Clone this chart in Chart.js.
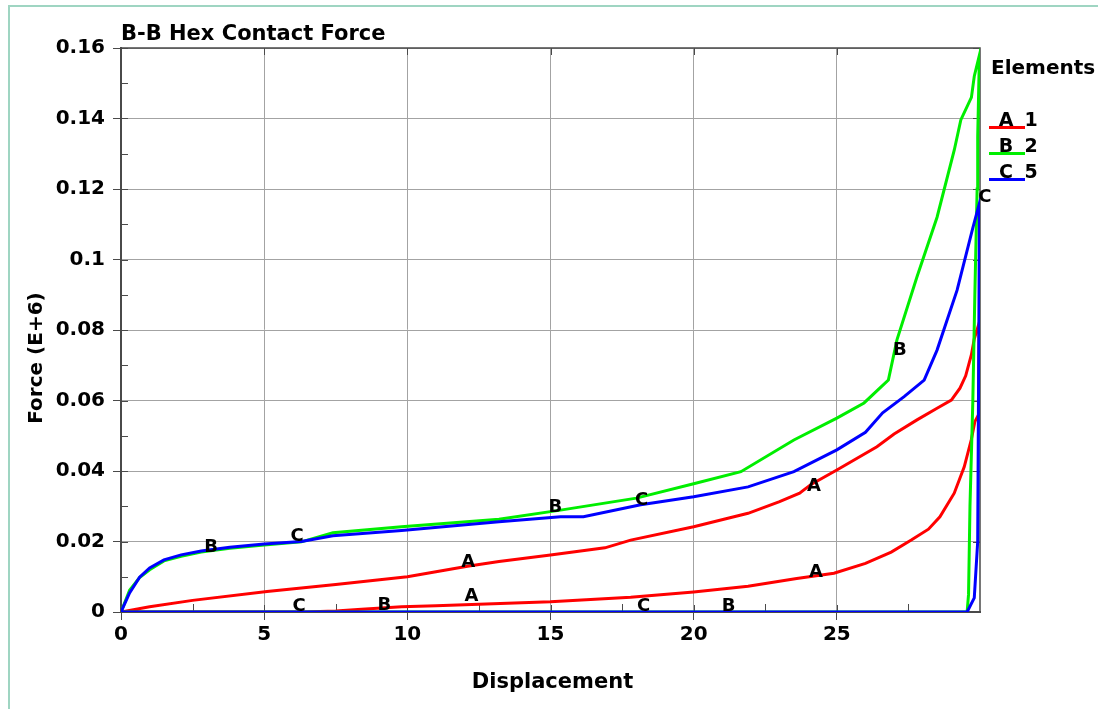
<!DOCTYPE html>
<html>
<head>
<meta charset="utf-8">
<title>B-B Hex Contact Force</title>
<script src="https://cdn.jsdelivr.net/npm/chart.js@4.4.1/dist/chart.umd.min.js"></script>
<style>
  html, body { margin: 0; padding: 0; background: #ffffff; }
  #wrap { position: relative; width: 1098px; height: 709px; overflow: hidden; }
  #edge { position: absolute; left: 8px; top: 5px; width: 1200px; height: 800px;
          border-left: 2px solid #9fd5c2; border-top: 2px solid #9fd5c2; }
  canvas { position: absolute; left: 0; top: 0; }
</style>
</head>
<body>
<div id="wrap">
  <div id="edge"></div>
  <canvas id="chart" width="1098" height="709"></canvas>
</div>
<script>
// Element 1 (A): loading branch, jump at the end of travel, then the return branch
const elem1Disp = [0, 6.4, 7.5, 8.4, 9.8, 11.0, 12.5, 15.0, 17.8, 20.0, 21.9, 23.6, 24.9, 26.0, 26.9, 27.6, 28.2, 28.6, 29.1, 29.45, 29.7, 29.82, 29.95, 29.97,
                   29.8, 29.7, 29.5, 29.3, 29.0, 28.5, 27.8, 27.0, 26.4, 25.0, 24.1, 23.7, 23.0, 21.9, 20.0, 17.8, 16.9, 15.0, 13.2, 12.1, 10.0, 7.5, 5.1, 2.5, 1.0, 0];
const elem1Force = [0, 0, 0.0003, 0.0008, 0.0015, 0.0018, 0.0022, 0.0029, 0.0042, 0.0057, 0.0073, 0.0095, 0.011, 0.0138, 0.017, 0.0204, 0.0235, 0.027, 0.0337, 0.0412, 0.049, 0.054, 0.056, 0.082,
                    0.0775, 0.073, 0.067, 0.0635, 0.0601, 0.0578, 0.0545, 0.0505, 0.0469, 0.0403, 0.0362, 0.0337, 0.0313, 0.028, 0.0242, 0.0204, 0.0182, 0.0162, 0.0143, 0.013, 0.0100, 0.0078, 0.0058, 0.0033, 0.0015, 0];

// Element 2 (B)
const elem2Disp = [0, 29.55, 29.6, 29.65, 29.75, 29.82, 29.9, 29.92, 29.98,
                   29.8, 29.7, 29.33, 29.1, 28.5, 27.8, 27.1, 26.8, 26.5, 25.95, 25.0, 23.5, 21.65, 20.0, 18.0, 15.35, 13.2, 9.8, 7.4, 6.3, 5.0, 3.8, 2.8, 2.1, 1.5, 1.0, 0.65, 0.3, 0];
const elem2Force = [0, 0, 0.005, 0.03, 0.06, 0.09, 0.12, 0.135, 0.158,
                    0.152, 0.146, 0.1396, 0.131, 0.112, 0.0951, 0.0772, 0.0658, 0.0635, 0.0593, 0.055, 0.0488, 0.0398, 0.0364, 0.0323, 0.0289, 0.0263, 0.0242, 0.0225, 0.0199, 0.019, 0.0181, 0.017, 0.0158, 0.0145, 0.012, 0.0098, 0.0062, 0];

// Element 5 (C)
const elem5Disp = [0, 29.55, 29.8, 29.92, 29.96, 29.98,
                   29.75, 29.2, 28.5, 28.05, 27.35, 26.6, 26.0, 25.0, 23.5, 21.9, 20.0, 18.15, 16.15, 15.35, 13.2, 9.8, 7.4, 6.3, 5.0, 3.8, 2.8, 2.1, 1.5, 1.0, 0.65, 0.3, 0];
const elem5Force = [0, 0, 0.004, 0.02, 0.08, 0.116,
                    0.109, 0.0913, 0.0743, 0.0658, 0.0611, 0.0565, 0.051, 0.046, 0.0398, 0.0355, 0.0327, 0.0304, 0.027, 0.027, 0.0256, 0.0231, 0.0216, 0.0200, 0.0193, 0.0184, 0.0173, 0.0162, 0.0148, 0.0125, 0.0099, 0.0054, 0];

// Curve identification letters placed along each curve (displacement, force)
const markADisp = [12.13, 24.2, 12.24, 24.27];
const markAForce = [0.0142, 0.0357, 0.0045, 0.0113];
const markBDisp = [3.15, 15.17, 27.2, 9.2, 21.22];
const markBForce = [0.0184, 0.0298, 0.0743, 0.002, 0.0017];
const markCDisp = [6.15, 18.18, 30.17, 6.22, 18.25];
const markCForce = [0.0214, 0.0318, 0.1175, 0.0017, 0.0017];

const xTicks = [0, 5, 10, 15, 20, 25];
const yTicks = [0, 0.02, 0.04, 0.06, 0.08, 0.1, 0.12, 0.14, 0.16];
const xMinor = [2.5, 7.5, 12.5, 17.5, 22.5, 27.5];
const yMinor = [0.01, 0.03, 0.05, 0.07, 0.09, 0.11, 0.13, 0.15];

const seriesNames = ['1', '2', '5'];
const seriesLetters = ['A', 'B', 'C'];
const seriesColors = ['#ff0000', '#00ee00', '#0000ff'];

const toPoints = (xs, ys) => xs.map((x, i) => ({ x: x, y: ys[i] }));

const FONT = '"DejaVu Sans", "Liberation Sans", sans-serif';
const AXIS_DARK = '#4a4a4a';

// Frame, inner ticks, titles, legend and curve letters
const decorPlugin = {
  id: 'decor',
  beforeDatasetsDraw(chart) {
    const { ctx, chartArea: a, scales: { x, y } } = chart;
    ctx.save();
    ctx.strokeStyle = AXIS_DARK;
    ctx.lineWidth = 1.5;
    // top and right edges of the plot box
    ctx.beginPath();
    ctx.moveTo(a.left, a.top); ctx.lineTo(a.right, a.top); ctx.lineTo(a.right, a.bottom);
    ctx.stroke();
    ctx.lineWidth = 1;
    // inner major ticks
    ctx.beginPath();
    yTicks.forEach(v => {
      const py = Math.round(y.getPixelForValue(v)) + 0.5;
      ctx.moveTo(a.left, py); ctx.lineTo(a.left + 7, py);
      ctx.moveTo(a.right, py); ctx.lineTo(a.right - 7, py);
    });
    xTicks.forEach(v => {
      const px = Math.round(x.getPixelForValue(v)) + 0.5;
      ctx.moveTo(px, a.bottom); ctx.lineTo(px, a.bottom - 7);
      ctx.moveTo(px, a.top); ctx.lineTo(px, a.top + 7);
    });
    // minor ticks
    yMinor.forEach(v => {
      const py = Math.round(y.getPixelForValue(v)) + 0.5;
      ctx.moveTo(a.left, py); ctx.lineTo(a.left + 7, py);
    });
    xMinor.forEach(v => {
      const px = Math.round(x.getPixelForValue(v)) + 0.5;
      ctx.moveTo(px, a.bottom); ctx.lineTo(px, a.bottom - 8);
    });
    ctx.stroke();
    ctx.restore();
  },
  afterDatasetsDraw(chart) {
    const { ctx, chartArea: a, scales: { x, y } } = chart;
    ctx.save();
    ctx.fillStyle = '#000';

    // letters on the curves
    ctx.font = 'bold 18px ' + FONT;
    ctx.textAlign = 'center';
    ctx.textBaseline = 'middle';
    [[markADisp, markAForce, 'A'], [markBDisp, markBForce, 'B'], [markCDisp, markCForce, 'C']].forEach(([xs, ys, t]) => {
      xs.forEach((v, i) => ctx.fillText(t, x.getPixelForValue(v), y.getPixelForValue(ys[i])));
    });

    // chart title
    ctx.font = 'bold 21px ' + FONT;
    ctx.textAlign = 'left';
    ctx.textBaseline = 'alphabetic';
    ctx.fillText('B-B Hex Contact Force', a.left, 39.5);

    // axis titles
    ctx.font = 'bold 21px ' + FONT;
    ctx.textAlign = 'center';
    ctx.textBaseline = 'middle';
    ctx.fillText('Displacement', (a.left + a.right) / 2 + 2, 683);
    ctx.save();
    ctx.translate(37, 358);
    ctx.rotate(-Math.PI / 2);
    ctx.font = 'bold 20px ' + FONT;
    ctx.fillText('Force (E+6)', 0, 0);
    ctx.restore();

    // legend
    ctx.font = 'bold 20px ' + FONT;
    ctx.textAlign = 'left';
    ctx.textBaseline = 'alphabetic';
    ctx.fillText('Elements', 991, 74);
    seriesNames.forEach((name, i) => {
      const ly = 127.5 + i * 26;
      ctx.strokeStyle = seriesColors[i];
      ctx.lineWidth = 3;
      ctx.beginPath();
      ctx.moveTo(989, ly); ctx.lineTo(1025, ly);
      ctx.stroke();
      ctx.font = 'bold 19px ' + FONT;
      ctx.textAlign = 'center';
      ctx.fillText(seriesLetters[i], 1006, ly - 1.5);
      ctx.fillText(name, 1031, ly - 1.5);
    });
    ctx.restore();
  }
};

const lineStyle = (color, order) => ({
  borderColor: color,
  backgroundColor: color,
  borderWidth: 3,
  showLine: true,
  fill: false,
  pointRadius: 0,
  tension: 0,
  order: order
});

new Chart(document.getElementById('chart'), {
  type: 'scatter',
  data: {
    datasets: [
      Object.assign({ label: seriesNames[0], data: toPoints(elem1Disp, elem1Force) }, lineStyle(seriesColors[0], 2)),
      Object.assign({ label: seriesNames[1], data: toPoints(elem2Disp, elem2Force) }, lineStyle(seriesColors[1], 1)),
      Object.assign({ label: seriesNames[2], data: toPoints(elem5Disp, elem5Force) }, lineStyle(seriesColors[2], 0))
    ]
  },
  options: {
    responsive: false,
    animation: false,
    events: [],
    layout: { padding: { left: 0, top: 48, right: 118, bottom: 0 } },
    plugins: {
      legend: { display: false },
      tooltip: { enabled: false },
      title: { display: false }
    },
    scales: {
      x: {
        type: 'linear',
        min: 0,
        max: 30,
        afterFit(s) { s.height = 97; },
        afterBuildTicks(s) { s.ticks = xTicks.map(v => ({ value: v })); },
        grid: { color: '#a3a3a3', lineWidth: 1, drawTicks: true, tickLength: 8, tickColor: AXIS_DARK },
        border: { display: true, color: AXIS_DARK, width: 2 },
        ticks: {
          padding: 3,
          color: '#000',
          font: { family: FONT, size: 20, weight: 'bold' },
          maxRotation: 0,
          callback: v => String(v)
        }
      },
      y: {
        type: 'linear',
        min: 0,
        max: 0.16,
        afterFit(s) { s.width = 121; },
        afterBuildTicks(s) { s.ticks = yTicks.map(v => ({ value: v })); },
        grid: { color: '#a3a3a3', lineWidth: 1, drawTicks: true, tickLength: 8, tickColor: AXIS_DARK },
        border: { display: true, color: AXIS_DARK, width: 2 },
        ticks: {
          padding: 8,
          color: '#000',
          font: { family: FONT, size: 20, weight: 'bold' },
          callback: v => String(Number(v.toFixed(2)))
        }
      }
    }
  },
  plugins: [decorPlugin]
});
</script>
</body>
</html>
